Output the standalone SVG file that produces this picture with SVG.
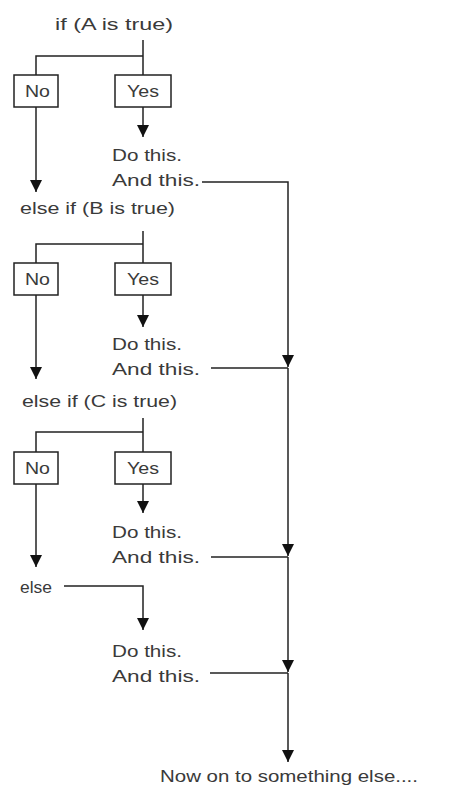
<svg xmlns="http://www.w3.org/2000/svg" width="467" height="792" viewBox="0 0 467 792">
<style>
text{font-family:"Liberation Sans",Arial,sans-serif;font-size:17px;fill:#3a3a3a}
.box{fill:#fff;stroke:#222;stroke-width:1.5}
.ln{fill:none;stroke:#222;stroke-width:1.5}
.ar{fill:none;stroke:#222;stroke-width:1.5;marker-end:url(#ah)}
</style>
<defs>
<marker id="ah" markerUnits="userSpaceOnUse" viewBox="0 -6 12 12" refX="12" refY="0" markerWidth="12" markerHeight="12" orient="auto">
<path d="M0,-6 L12,0 L0,6 z" fill="#111"/>
</marker>
</defs>
<rect width="467" height="792" fill="#fff"/>
<g id="connectors">
<!-- block A -->
<path class="ln" d="M143,40 V75 M36,75 V56 H143"/>
<path class="ar" d="M143,107 V137"/>
<path class="ar" d="M36,107 V192"/>
<path class="ar" d="M202,182 H288 V367"/>
<!-- block B -->
<path class="ln" d="M143,231 V263 M36,263 V244 H143"/>
<path class="ar" d="M143,295 V327"/>
<path class="ar" d="M36,295 V379"/>
<path class="ln" d="M211,368 H288"/>
<path class="ar" d="M288,368 V556"/>
<!-- block C -->
<path class="ln" d="M143,418 V452 M36,452 V432 H143"/>
<path class="ar" d="M143,484 V513"/>
<path class="ar" d="M36,484 V567"/>
<path class="ln" d="M211,557 H288"/>
<path class="ar" d="M288,557 V672"/>
<!-- else -->
<path class="ar" d="M64,586 H143 V630"/>
<path class="ln" d="M210,673 H288"/>
<path class="ar" d="M288,673 V762"/>
</g>
<g id="condA"><text x="55" y="30" textLength="118" lengthAdjust="spacingAndGlyphs">if (A is true)</text></g>
<g id="noA"><rect class="box" x="14" y="75" width="44" height="32"/><text x="25" y="97" textLength="25" lengthAdjust="spacingAndGlyphs">No</text></g>
<g id="yesA"><rect class="box" x="115" y="75" width="56" height="32"/><text x="127" y="97" textLength="32" lengthAdjust="spacingAndGlyphs">Yes</text></g>
<g id="doA"><text x="112" y="161" textLength="70" lengthAdjust="spacingAndGlyphs">Do this.</text><text x="112" y="186" textLength="88" lengthAdjust="spacingAndGlyphs">And this.</text></g>
<g id="condB"><text x="20" y="214" textLength="155" lengthAdjust="spacingAndGlyphs">else if (B is true)</text></g>
<g id="noB"><rect class="box" x="14" y="263" width="44" height="32"/><text x="25" y="285" textLength="25" lengthAdjust="spacingAndGlyphs">No</text></g>
<g id="yesB"><rect class="box" x="115" y="263" width="56" height="32"/><text x="127" y="285" textLength="32" lengthAdjust="spacingAndGlyphs">Yes</text></g>
<g id="doB"><text x="112" y="350" textLength="70" lengthAdjust="spacingAndGlyphs">Do this.</text><text x="112" y="375" textLength="88" lengthAdjust="spacingAndGlyphs">And this.</text></g>
<g id="condC"><text x="22" y="407" textLength="155" lengthAdjust="spacingAndGlyphs">else if (C is true)</text></g>
<g id="noC"><rect class="box" x="14" y="452" width="44" height="32"/><text x="25" y="474" textLength="25" lengthAdjust="spacingAndGlyphs">No</text></g>
<g id="yesC"><rect class="box" x="115" y="452" width="56" height="32"/><text x="127" y="474" textLength="32" lengthAdjust="spacingAndGlyphs">Yes</text></g>
<g id="doC"><text x="112" y="538" textLength="70" lengthAdjust="spacingAndGlyphs">Do this.</text><text x="112" y="563" textLength="88" lengthAdjust="spacingAndGlyphs">And this.</text></g>
<g id="else"><text x="20" y="593" textLength="32" lengthAdjust="spacingAndGlyphs">else</text></g>
<g id="doElse"><text x="112" y="657" textLength="70" lengthAdjust="spacingAndGlyphs">Do this.</text><text x="112" y="682" textLength="88" lengthAdjust="spacingAndGlyphs">And this.</text></g>
<g id="next"><text x="160" y="782" textLength="258" lengthAdjust="spacingAndGlyphs">Now on to something else....</text></g>
</svg>
